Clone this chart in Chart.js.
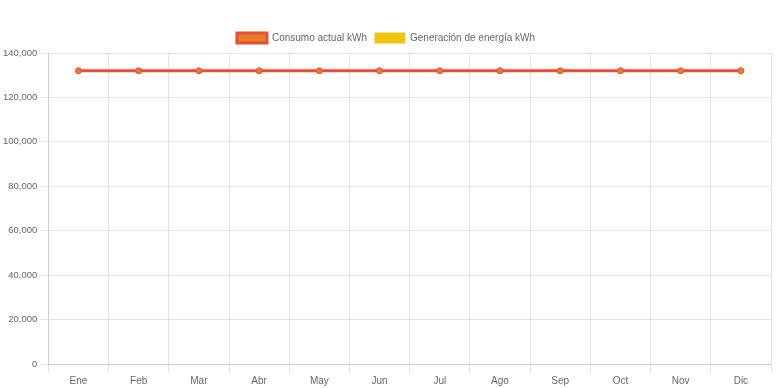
<!DOCTYPE html>
<html>
<head>
<meta charset="utf-8">
<script src="https://cdn.jsdelivr.net/npm/chart.js@4"></script>
<style>
  html, body { margin: 0; padding: 0; background: #fff; }
  #wrap { width: 776px; height: 388px; }
</style>
</head>
<body>
<div id="wrap"><canvas id="energyChart"></canvas></div>
<script>
const months = ['Ene', 'Feb', 'Mar', 'Abr', 'May', 'Jun', 'Jul', 'Ago', 'Sep', 'Oct', 'Nov', 'Dic'];
const consumo = [132000, 132000, 132000, 132000, 132000, 132000, 132000, 132000, 132000, 132000, 132000, 132000];
const generacion = [0, 0, 0, 0, 0, 0, 0, 0, 0, 0, 0, 0];

const ctx = document.getElementById('energyChart').getContext('2d');
Chart.defaults.font.family = '"Liberation Sans", Arial, sans-serif';
Chart.defaults.font.size = 10;
Chart.defaults.color = '#666';

new Chart(ctx, {
    type: 'bar',
    data: {
        labels: months,
        datasets: [{
            type: 'line',
            label: 'Consumo actual kWh',
            data: consumo,
            backgroundColor: '#e67e22',
            borderColor: '#e74c3c',
            borderWidth: 3,
            pointBackgroundColor: '#e67e22',
            pointBorderColor: '#e74c3c',
            pointBorderWidth: 1,
            pointRadius: 3,
            fill: false,
            tension: 0
        }, {
            label: 'Generación de energía kWh',
            data: generacion,
            backgroundColor: '#f1c40f',
            borderColor: '#f1c40f',
            borderWidth: 1
        }]
    },
    options: {
        responsive: true,
        maintainAspectRatio: false,
        animation: false,
        layout: { padding: { top: 25, right: 4, bottom: -2 } },
        plugins: {
            legend: {
                labels: { boxWidth: 30, padding: 8 }
            },
            tooltip: { enabled: false }
        },
        scales: {
            y: {
                min: 0,
                max: 140000,
                ticks: { stepSize: 20000, font: { size: 9.5 } }
            },
            x: {}
        }
    }
});
</script>
</body>
</html>
